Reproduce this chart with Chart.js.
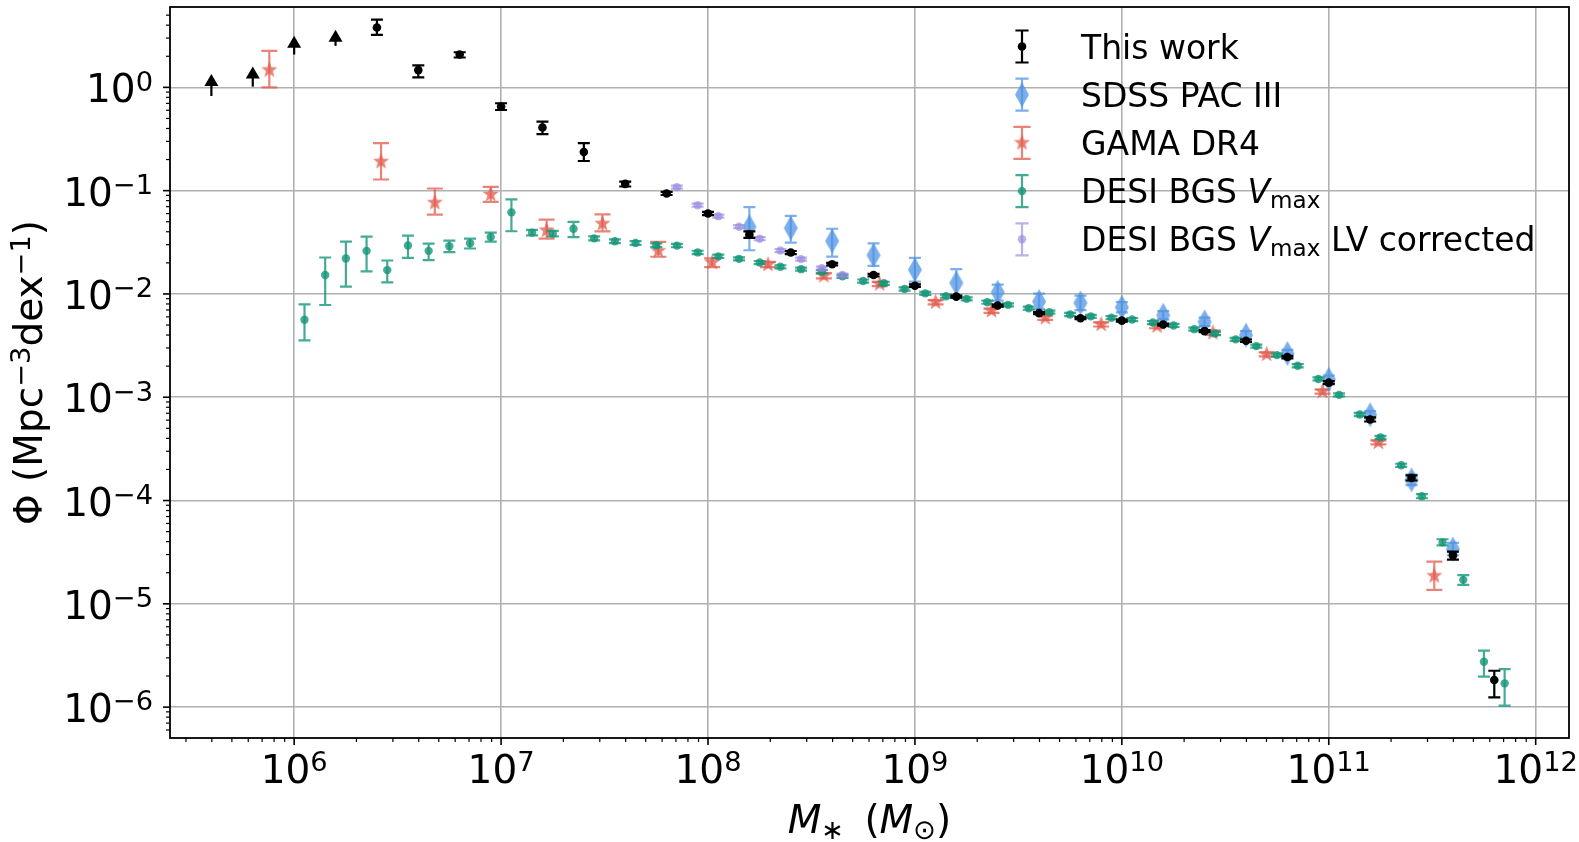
<!DOCTYPE html>
<html>
<head>
<meta charset="utf-8">
<script src="https://cdn.jsdelivr.net/npm/chart.js@4.4.1/dist/chart.umd.min.js"></script>
<style>
  html, body { margin: 0; padding: 0; background: #fff; }
  #wrap { width: 1579px; height: 842px; }
</style>
</head>
<body>
<div id="wrap"><canvas id="myChart" width="1579" height="842"></canvas></div>
<script>
// all values are log10
// This work
var thisWorkLogM = [6.4, 6.6, 6.8, 7.0, 7.2, 7.4, 7.6, 7.8, 8.0, 8.2, 8.4, 8.6, 8.8, 9.0, 9.2, 9.4, 9.6, 9.8, 10.0, 10.2, 10.4, 10.6, 10.8, 11.0, 11.2, 11.4, 11.6, 11.8];
var thisWorkLogPhi = [0.579, 0.167, 0.318, -0.186, -0.388, -0.626, -0.934, -1.027, -1.221, -1.426, -1.599, -1.712, -1.817, -1.920, -2.026, -2.112, -2.186, -2.235, -2.258, -2.296, -2.360, -2.453, -2.611, -2.859, -3.215, -3.781, -4.531, -5.738];
var thisWorkErrDn = [0.071, 0.071, 0.029, 0.033, 0.065, 0.087, 0.026, 0.015, 0.015, 0.032, 0.015, 0.012, 0.012, 0.012, 0.010, 0.010, 0.010, 0.010, 0.010, 0.010, 0.010, 0.012, 0.012, 0.015, 0.020, 0.025, 0.041, 0.168];
var thisWorkErrUp = [0.077, 0.045, 0.022, 0.032, 0.057, 0.087, 0.022, 0.015, 0.015, 0.032, 0.015, 0.012, 0.012, 0.012, 0.010, 0.010, 0.010, 0.010, 0.010, 0.010, 0.010, 0.012, 0.012, 0.015, 0.020, 0.025, 0.036, 0.090];
// This work, lower limits (arrows)
var limLogM = [5.6, 5.8, 6.0, 6.2];
var limLogPhi = [-0.084, 0.007, 0.318, 0.402];
var limLogTop = [0.061, 0.135, 0.431, 0.489];

// SDSS PAC III
var sdssLogM = [8.2, 8.4, 8.6, 8.8, 9.0, 9.2, 9.4, 9.6, 9.8, 10.0, 10.2, 10.4, 10.6, 10.8, 11.0, 11.2, 11.4, 11.6];
var sdssLogPhi = [-1.349, -1.362, -1.487, -1.625, -1.766, -1.894, -1.984, -2.074, -2.087, -2.129, -2.206, -2.270, -2.399, -2.576, -2.826, -3.170, -3.800, -4.470];
var sdssErrDn = [0.228, 0.141, 0.151, 0.103, 0.115, 0.122, 0.080, 0.070, 0.070, 0.050, 0.040, 0.040, 0.040, 0.035, 0.035, 0.035, 0.050, 0.060];
var sdssErrUp = [0.189, 0.118, 0.118, 0.115, 0.115, 0.134, 0.074, 0.077, 0.070, 0.050, 0.040, 0.040, 0.040, 0.035, 0.035, 0.035, 0.050, 0.060];

// GAMA DR4
var gamaLogM = [5.88, 6.42, 6.68, 6.95, 7.22, 7.49, 7.76, 8.02, 8.29, 8.56, 8.83, 9.10, 9.37, 9.63, 9.90, 10.17, 10.44, 10.70, 10.97, 11.24, 11.51];
var gamaLogPhi = [0.167, -0.719, -1.117, -1.037, -1.384, -1.320, -1.583, -1.696, -1.715, -1.824, -1.904, -2.080, -2.163, -2.231, -2.295, -2.312, -2.376, -2.585, -2.945, -3.437, -4.730];
var gamaErrDn = [0.167, 0.173, 0.116, 0.071, 0.080, 0.074, 0.057, 0.045, 0.025, 0.025, 0.020, 0.020, 0.020, 0.020, 0.020, 0.020, 0.020, 0.020, 0.020, 0.020, 0.135];
var gamaErrUp = [0.186, 0.180, 0.138, 0.074, 0.103, 0.090, 0.087, 0.040, 0.025, 0.025, 0.020, 0.020, 0.020, 0.020, 0.020, 0.020, 0.020, 0.020, 0.020, 0.020, 0.138];

// DESI BGS Vmax
var desiLogM = [6.05, 6.15, 6.25, 6.35, 6.45, 6.55, 6.65, 6.75, 6.85, 6.95,
                7.05, 7.15, 7.25, 7.35, 7.45, 7.55, 7.65, 7.75, 7.85, 7.95,
                8.05, 8.15, 8.25, 8.35, 8.45, 8.55, 8.65, 8.75, 8.85, 8.95,
                9.05, 9.15, 9.25, 9.35, 9.45, 9.55, 9.65, 9.75, 9.85, 9.95,
                10.05, 10.15, 10.25, 10.35, 10.45, 10.55, 10.65, 10.75, 10.85, 10.95,
                11.05, 11.15, 11.25, 11.35, 11.45, 11.55, 11.65, 11.75, 11.85];
var desiLogPhi = [-2.250, -1.817, -1.657, -1.583, -1.769, -1.531, -1.583, -1.538, -1.509, -1.448,
                  -1.210, -1.406, -1.416, -1.369, -1.462, -1.490, -1.506, -1.529, -1.532, -1.598,
                  -1.636, -1.660, -1.696, -1.737, -1.760, -1.785, -1.830, -1.875, -1.897, -1.952,
                  -1.994, -2.022, -2.048, -2.080, -2.106, -2.138, -2.176, -2.199, -2.217, -2.230,
                  -2.248, -2.277, -2.305, -2.341, -2.383, -2.440, -2.505, -2.592, -2.695, -2.823,
                  -2.977, -3.167, -3.389, -3.659, -3.958, -4.405, -4.768, -5.560, -5.770];
var desiErrDn = [0.200, 0.290, 0.272, 0.199, 0.119, 0.119, 0.090, 0.058, 0.051, 0.045,
                 0.183, 0.026, 0.026, 0.080, 0.020, 0.018, 0.018, 0.018, 0.016, 0.016,
                 0.016, 0.015, 0.015, 0.015, 0.015, 0.015, 0.015, 0.015, 0.015, 0.015,
                 0.015, 0.015, 0.015, 0.015, 0.015, 0.015, 0.015, 0.015, 0.015, 0.015,
                 0.015, 0.015, 0.015, 0.015, 0.015, 0.015, 0.015, 0.015, 0.015, 0.015,
                 0.015, 0.015, 0.015, 0.015, 0.020, 0.030, 0.049, 0.145, 0.215];
var desiErrUp = [0.150, 0.170, 0.164, 0.138, 0.093, 0.096, 0.071, 0.055, 0.045, 0.042,
                 0.125, 0.026, 0.026, 0.067, 0.020, 0.018, 0.018, 0.018, 0.016, 0.016,
                 0.016, 0.015, 0.015, 0.015, 0.015, 0.015, 0.015, 0.015, 0.015, 0.015,
                 0.015, 0.015, 0.015, 0.015, 0.015, 0.015, 0.015, 0.015, 0.015, 0.015,
                 0.015, 0.015, 0.015, 0.015, 0.015, 0.015, 0.015, 0.015, 0.015, 0.015,
                 0.015, 0.015, 0.015, 0.015, 0.020, 0.030, 0.045, 0.106, 0.138];

// DESI BGS Vmax, LV corrected
var lvLogM = [7.85, 7.95, 8.05, 8.15, 8.25, 8.35, 8.45, 8.55, 8.65];
var lvLogPhi = [-0.966, -1.141, -1.247, -1.349, -1.465, -1.580, -1.663, -1.750, -1.817];
var lvErr = [0.015, 0.015, 0.015, 0.015, 0.015, 0.015, 0.015, 0.015, 0.015];

// axes
var xTickExps = [6, 7, 8, 9, 10, 11, 12];
var yTickExps = [-6, -5, -4, -3, -2, -1, 0];
var xLogRange = [5.40, 12.161];
var yLogRange = [-6.299, 0.778];

var FONT = '"DejaVu Sans", sans-serif';
var TICK_SIZE = 39, LABEL_SIZE = 39, LEGEND_SIZE = 33;

var colBlack = '#000000';
var colBlue = 'rgba(74,144,226,0.72)';
var colRed = 'rgba(226,90,75,0.75)';
var colGreen = 'rgba(20,150,120,0.8)';
var colPurple = 'rgba(150,135,225,0.65)';

function points(logM, logPhi, dn, up) {
  return logM.map(function (m, i) {
    return {
      x: Math.pow(10, m),
      y: Math.pow(10, logPhi[i]),
      lo: Math.pow(10, logPhi[i] - dn[i]),
      hi: Math.pow(10, logPhi[i] + up[i])
    };
  });
}

function limitPoints(logM, logPhi, logTop) {
  return logM.map(function (m, i) {
    return { x: Math.pow(10, m), y: Math.pow(10, logPhi[i]), lo: Math.pow(10, logPhi[i]), hi: Math.pow(10, logTop[i]) };
  });
}

function starMarker(color, r) {
  var c = document.createElement('canvas');
  var s = Math.ceil(2 * r + 2);
  c.width = s; c.height = s;
  var g = c.getContext('2d');
  g.fillStyle = color;
  g.beginPath();
  for (var k = 0; k < 10; k++) {
    var rr = k % 2 ? r * 0.42 : r;
    var a = -Math.PI / 2 + k * Math.PI / 5;
    g.lineTo(s / 2 + rr * Math.cos(a), s / 2 + rr * Math.sin(a));
  }
  g.closePath();
  g.fill();
  return c;
}

function diamondMarker(color, w, h) {
  var c = document.createElement('canvas');
  c.width = Math.ceil(w + 2); c.height = Math.ceil(h + 2);
  var g = c.getContext('2d');
  var cx = c.width / 2, cy = c.height / 2;
  g.fillStyle = color;
  g.beginPath();
  g.moveTo(cx, cy - h / 2);
  g.lineTo(cx + w / 2, cy);
  g.lineTo(cx, cy + h / 2);
  g.lineTo(cx - w / 2, cy);
  g.closePath();
  g.fill();
  return c;
}

var starImg = starMarker(colRed, 8.5);
var diamondImg = diamondMarker(colBlue, 14, 25);

function isPow10(v) {
  var l = Math.log10(v);
  return Math.abs(l - Math.round(l)) < 1e-6;
}

function logTicks(axis) {
  var lo = axis.min, hi = axis.max, t = [];
  for (var e = Math.floor(Math.log10(lo)); e <= Math.ceil(Math.log10(hi)); e++) {
    for (var k = 1; k < 10; k++) {
      var v = k * Math.pow(10, e);
      if (v >= lo && v <= hi) t.push({ value: v, major: k === 1 });
    }
  }
  axis.ticks = t;
}

function supText(e) {
  return (e < 0 ? '\u2212' : '') + Math.abs(e);
}

// rich text: segments are strings or {t, it, sup, sub}
function segFont(s, size) {
  var sz = (s.sup || s.sub) ? size * 0.7 : size;
  return (s.it ? 'italic ' : '') + sz + 'px ' + FONT;
}
function richWidth(ctx, segs, size) {
  var w = 0;
  segs.forEach(function (s) {
    if (typeof s === 'string') s = { t: s };
    ctx.font = segFont(s, size);
    w += ctx.measureText(s.t).width;
  });
  return w;
}
function drawRich(ctx, segs, x, y, size, align) {
  var w = richWidth(ctx, segs, size);
  var cx = align === 'center' ? x - w / 2 : align === 'right' ? x - w : x;
  ctx.textAlign = 'left';
  ctx.textBaseline = 'alphabetic';
  segs.forEach(function (s) {
    if (typeof s === 'string') s = { t: s };
    ctx.font = segFont(s, size);
    var dy = s.sup ? -0.3 * size : s.sub ? 0.15 * size : 0;
    ctx.fillText(s.t, cx, y + dy);
    cx += ctx.measureText(s.t).width;
  });
}

function drawMarker(ctx, ds, x, y) {
  if (ds.pointStyle && typeof ds.pointStyle === 'object') {
    ctx.drawImage(ds.pointStyle, x - ds.pointStyle.width / 2, y - ds.pointStyle.height / 2);
  } else {
    ctx.fillStyle = ds.pointBackgroundColor;
    ctx.beginPath();
    ctx.arc(x, y, ds.pointRadius, 0, Math.PI * 2);
    ctx.fill();
  }
}

function errorPath(ctx, px, top, bot, cap) {
  ctx.beginPath();
  ctx.moveTo(px, top);
  ctx.lineTo(px, bot);
  ctx.moveTo(px - cap, top); ctx.lineTo(px + cap, top);
  ctx.moveTo(px - cap, bot); ctx.lineTo(px + cap, bot);
  ctx.stroke();
}

var errorBarPlugin = {
  id: 'errorBars',
  beforeDatasetDraw: function (chart, args) {
    var ds = chart.data.datasets[args.index];
    if (!ds.errorColor) return;
    var ctx = chart.ctx, xs = chart.scales.x, ys = chart.scales.y;
    ctx.save();
    ctx.strokeStyle = ds.errorColor;
    ctx.fillStyle = ds.errorColor;
    ctx.lineWidth = 2.2;
    ds.data.forEach(function (p) {
      var px = xs.getPixelForValue(p.x);
      var top = ys.getPixelForValue(p.hi);
      var bot = ys.getPixelForValue(p.lo);
      if (!ds.lowerLimit) {
        errorPath(ctx, px, top, bot, ds.capSize);
        return;
      }
      ctx.beginPath();
      ctx.moveTo(px, top);
      ctx.lineTo(px, bot);
      ctx.stroke();
      ctx.beginPath();
      ctx.moveTo(px, top - 7);
      ctx.lineTo(px + 7, top + 5);
      ctx.lineTo(px - 7, top + 5);
      ctx.closePath();
      ctx.fill();
    });
    ctx.restore();
  }
};

var axesPlugin = {
  id: 'mplAxes',
  afterDatasetsDraw: function (chart) {
    var ctx = chart.ctx, ca = chart.chartArea;
    var xs = chart.scales.x, ys = chart.scales.y;
    ctx.save();
    ctx.strokeStyle = '#000';
    // tick marks
    xs.ticks.forEach(function (t) {
      var px = xs.getPixelForValue(t.value);
      var len = t.major ? 7 : 4;
      ctx.lineWidth = t.major ? 1.6 : 1.2;
      ctx.beginPath();
      ctx.moveTo(px, ca.bottom);
      ctx.lineTo(px, ca.bottom + len);
      ctx.stroke();
    });
    ys.ticks.forEach(function (t) {
      var py = ys.getPixelForValue(t.value);
      var len = t.major ? 7 : 4;
      ctx.lineWidth = t.major ? 1.6 : 1.2;
      ctx.beginPath();
      ctx.moveTo(ca.left, py);
      ctx.lineTo(ca.left - len, py);
      ctx.stroke();
    });
    // spines
    ctx.lineWidth = 1.8;
    ctx.strokeRect(ca.left, ca.top, ca.right - ca.left, ca.bottom - ca.top);

    // tick labels
    ctx.fillStyle = '#000';
    xTickExps.forEach(function (e) {
      var px = xs.getPixelForValue(Math.pow(10, e));
      drawRich(ctx, ['10', { t: supText(e), sup: 1 }], px, ca.bottom + 45, TICK_SIZE, 'center');
    });
    yTickExps.forEach(function (e) {
      var py = ys.getPixelForValue(Math.pow(10, e));
      drawRich(ctx, ['10', { t: supText(e), sup: 1 }], ca.left - 17, py + 15, TICK_SIZE, 'right');
    });

    // axis titles
    drawRich(ctx, [{ t: 'M', it: 1 }, { t: '\u2217', sub: 1 }, ' \u2009(', { t: 'M', it: 1 }, { t: '\u2299', sub: 1 }, ')'],
      (ca.left + ca.right) / 2, 833, LABEL_SIZE, 'center');
    ctx.save();
    ctx.translate(42, (ca.top + ca.bottom) / 2);
    ctx.rotate(-Math.PI / 2);
    drawRich(ctx, ['\u03a6 (Mpc', { t: '\u22123', sup: 1 }, 'dex', { t: '\u22121', sup: 1 }, ')'], 0, 0, LABEL_SIZE, 'center');
    ctx.restore();

    // legend
    var ds = chart.data.datasets;
    var entries = [
      { ds: ds[0], text: ['This work'] },
      { ds: ds[4], text: ['SDSS PAC III'] },
      { ds: ds[5], text: ['GAMA DR4'] },
      { ds: ds[3], text: ['DESI BGS ', { t: 'V', it: 1 }, { t: 'max', sub: 1 }] },
      { ds: ds[2], text: ['DESI BGS ', { t: 'V', it: 1 }, { t: 'max', sub: 1 }, ' LV corrected'] }
    ];
    var ix = ca.right - 547, tx = ca.right - 488;
    entries.forEach(function (en, i) {
      var cy = ca.top + 39.5 + i * 48.2;
      ctx.strokeStyle = en.ds.errorColor;
      ctx.lineWidth = 2.2;
      errorPath(ctx, ix, cy - 16, cy + 16, en.ds.capSize + 0.6);
      drawMarker(ctx, en.ds, ix, cy);
      ctx.fillStyle = '#000';
      drawRich(ctx, en.text, tx, cy + 12, LEGEND_SIZE, 'left');
    });
    ctx.restore();
  }
};

function gridColor(c) {
  return c.tick && isPow10(c.tick.value) ? '#b0b0b0' : 'rgba(0,0,0,0)';
}

var ctx = document.getElementById('myChart').getContext('2d');
var myChart = new Chart(ctx, {
  type: 'scatter',
  data: {
    datasets: [{
      label: 'This work',
      data: points(thisWorkLogM, thisWorkLogPhi, thisWorkErrDn, thisWorkErrUp),
      pointStyle: 'circle',
      pointRadius: 4.3,
      pointBackgroundColor: colBlack,
      pointBorderWidth: 0,
      errorColor: colBlack,
      capSize: 6
    }, {
      label: 'This work limits',
      data: limitPoints(limLogM, limLogPhi, limLogTop),
      pointRadius: 0,
      errorColor: colBlack,
      lowerLimit: true,
      capSize: 6
    }, {
      label: 'DESI BGS Vmax LV corrected',
      data: points(lvLogM, lvLogPhi, lvErr, lvErr),
      pointStyle: 'circle',
      pointRadius: 4.2,
      pointBackgroundColor: colPurple,
      pointBorderWidth: 0,
      errorColor: colPurple,
      capSize: 6
    }, {
      label: 'DESI BGS Vmax',
      data: points(desiLogM, desiLogPhi, desiErrDn, desiErrUp),
      pointStyle: 'circle',
      pointRadius: 4.2,
      pointBackgroundColor: colGreen,
      pointBorderWidth: 0,
      errorColor: colGreen,
      capSize: 6
    }, {
      label: 'SDSS PAC III',
      data: points(sdssLogM, sdssLogPhi, sdssErrDn, sdssErrUp),
      pointStyle: diamondImg,
      pointRadius: 6,
      errorColor: colBlue,
      capSize: 6
    }, {
      label: 'GAMA DR4',
      data: points(gamaLogM, gamaLogPhi, gamaErrDn, gamaErrUp),
      pointStyle: starImg,
      pointRadius: 6,
      errorColor: colRed,
      capSize: 8
    }]
  },
  options: {
    responsive: false,
    animation: false,
    events: [],
    layout: { padding: { left: 170, right: 10, top: 4, bottom: 104 } },
    plugins: { legend: { display: false }, tooltip: { enabled: false } },
    scales: {
      x: {
        type: 'logarithmic',
        min: Math.pow(10, xLogRange[0]),
        max: Math.pow(10, xLogRange[1]),
        afterBuildTicks: logTicks,
        ticks: { display: false, autoSkip: false },
        border: { display: false },
        grid: { color: gridColor, lineWidth: 1.6, drawTicks: false }
      },
      y: {
        type: 'logarithmic',
        min: Math.pow(10, yLogRange[0]),
        max: Math.pow(10, yLogRange[1]),
        afterBuildTicks: logTicks,
        ticks: { display: false, autoSkip: false },
        border: { display: false },
        grid: { color: gridColor, lineWidth: 1.6, drawTicks: false }
      }
    }
  },
  plugins: [errorBarPlugin, axesPlugin]
});
</script>
</body>
</html>
